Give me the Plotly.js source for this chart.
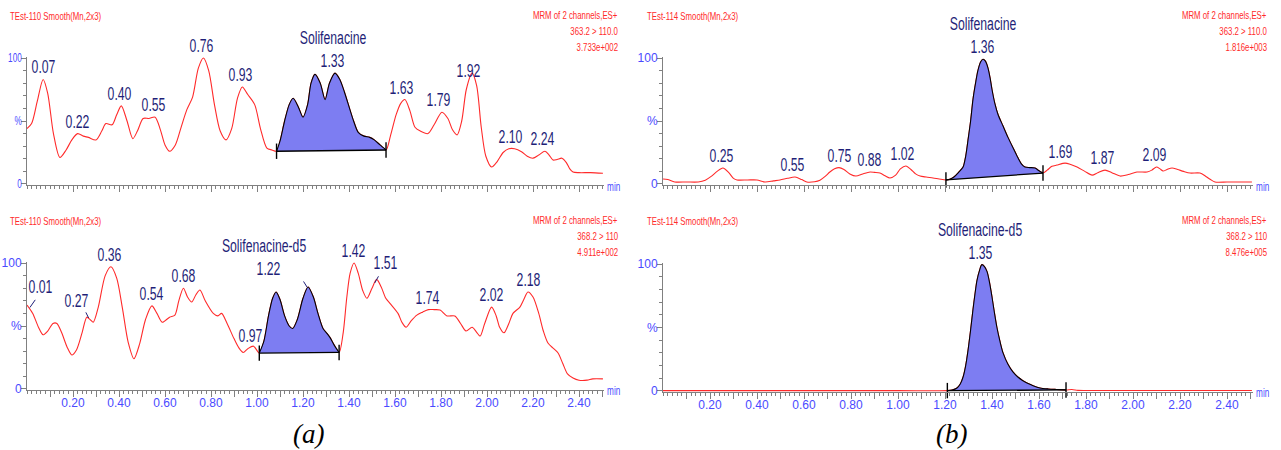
<!DOCTYPE html>
<html>
<head>
<meta charset="utf-8">
<script src="https://cdn.plot.ly/plotly-3.0.1.min.js"></script>
<style>html,body{margin:0;padding:0;background:#fff;}#chart{width:1281px;height:450px;}</style>
</head>
<body>
<div id="chart"></div>
<script>
// ---------- DATA (retention time in min, relative intensity in %) ----------
// (a) top: Solifenacine channel 363.2 > 110.0
const tA1 = [0.00,0.02,0.045,0.07,0.09,0.115,0.143,0.17,0.195,0.22,0.245,0.267,0.30,0.325,0.343,0.37,0.39,0.41,0.435,0.46,0.48,0.505,0.53,0.557,0.58,0.60,0.62,0.645,0.67,0.695,0.72,0.745,0.767,0.79,0.815,0.84,0.865,0.89,0.915,0.936,0.96,0.99,1.015,1.043,1.065,1.085,
  1.10,1.12,1.14,1.157,1.18,1.20,1.22,1.235,1.252,1.275,1.296,1.315,1.339,1.36,1.38,1.404,1.42,1.44,1.465,1.49,1.51,1.535,1.561,
  1.58,1.605,1.625,1.643,1.665,1.687,1.71,1.743,1.77,1.804,1.83,1.85,1.87,1.89,1.91,1.935,1.955,1.975,1.995,2.02,2.045,2.07,2.095,2.12,2.15,2.175,2.20,2.225,2.252,2.27,2.287,2.305,2.326,2.345,2.36,2.374,2.40,2.45,2.504];
const iA1 = [44,48,66,83,72,40,21,27,35,40,38,37,35,42,48,47,55,62,50,36,42,52,52,53,43,31,26,31,45,59,69,92,100,90,63,42,35,44,68,77,71,63,44,28.5,27,26,
  34,50,63,68,61,53,63,80,87,80,67,80,88,83,73,59,50,41,38,37,35,31,27,
  38,55,64,67,58,45,42,40,47,57,52,43,39,50,75,88,78,45,22,13.5,18,25,28,28,25.6,22,20.5,23,26,23,19,19.5,20.5,17,12,9.5,9,9,8.5];
// (a) bottom: Solifenacine-d5 channel 368.2 > 110
const tA2 = [0.00,0.025,0.05,0.07,0.09,0.113,0.13,0.15,0.175,0.195,0.215,0.24,0.26,0.275,0.288,0.31,0.34,0.365,0.39,0.415,0.44,0.465,0.49,0.515,0.543,0.565,0.588,0.62,0.643,0.66,0.68,0.698,0.716,0.735,0.752,0.775,0.81,0.83,0.846,0.87,0.90,0.92,0.94,0.96,0.985,1.01,
  1.03,1.05,1.068,1.083,1.10,1.12,1.14,1.155,1.175,1.20,1.222,1.245,1.265,1.287,1.305,1.317,1.335,1.357,
  1.375,1.39,1.405,1.422,1.44,1.46,1.478,1.50,1.52,1.54,1.56,1.578,1.613,1.63,1.648,1.67,1.695,1.72,1.745,1.77,1.796,1.826,1.86,1.885,1.909,1.935,1.955,1.97,1.99,2.02,2.04,2.055,2.074,2.095,2.113,2.143,2.16,2.178,2.20,2.225,2.245,2.265,2.29,2.309,2.33,2.35,2.374,2.40,2.435,2.46,2.504];
const iA2 = [66.7,60,49,43,46,52,52,45,33,27,31,45,57,55,53,65,90,97,88,64,37,24,36,55,66,60,53,57,58.7,70,80,73,69,75,78.6,70,60,58,60,52,40,33,29,32,34,28.5,
  38,58,72,77,71,58,50,48,55,72,81,73,60,48,44,41,35,29,
  45,72,92,100,92,78,72,80,87,81,72,68,60,53,49,54,58.6,61,63,63,62.7,58,58,52,46,49,45,42,52,65,58,49,44.6,52,60,65,71,77,73,60,46,36.5,32,28.6,20,12,8.7,7,7,8,8];
// (b) top: Solifenacine channel 363.2 > 110.0
const tB1 = [0.00,0.02,0.05,0.10,0.15,0.18,0.205,0.23,0.255,0.28,0.30,0.315,0.36,0.40,0.434,0.47,0.498,0.53,0.562,0.59,0.612,0.645,0.668,0.69,0.71,0.73,0.749,0.77,0.795,0.821,0.85,0.881,0.90,0.923,0.945,0.966,0.99,1.01,1.034,1.055,1.075,1.094,1.12,1.149,1.175,1.204,
  1.22,1.238,1.257,1.277,1.288,1.298,1.309,1.319,1.33,1.34,1.352,1.362,1.372,1.383,1.392,1.40,1.412,1.426,1.447,1.468,1.49,1.511,1.525,1.54,1.56,1.583,1.60,1.617,
  1.635,1.655,1.676,1.711,1.735,1.762,1.795,1.826,1.85,1.881,1.91,1.945,1.98,2.017,2.06,2.08,2.10,2.115,2.128,2.145,2.166,2.19,2.215,2.243,2.285,2.31,2.33,2.349,2.40,2.45,2.506];
const iB1 = [4,3.5,1.6,1.6,1.6,3,6,10,12.7,9,4.5,3.2,3.2,3.2,1.6,2.5,3.2,4.5,5.5,3.5,1.6,1.8,3,6,9.5,12,13,11.5,8,6.3,8,9.5,9.2,8.7,6.5,4.8,7,12,14.3,11.5,8,6.3,5.5,4.8,4,3.2,
  3.8,5.5,9,13.5,22,35,50,67,80,90,97,99,97.5,92,84,75,64,55,46,37,28.5,20.6,16,13.5,13,12.7,10.5,8.7,
  11,14,15,16.6,15.5,13.5,10,7,9,11,9,6.3,7.5,9.5,9.5,11,13.5,12,10.3,11.5,12.7,11.5,10,8.7,8.7,6,3.5,1.6,1.6,1.6,1.6];
// (b) bottom: Solifenacine-d5 channel 368.2 > 110
const tB2 = [0.00,0.50,1.00,1.21,
  1.23,1.251,1.265,1.277,1.288,1.298,1.309,1.319,1.328,1.336,1.347,1.357,1.368,1.379,1.39,1.40,1.41,1.421,1.434,1.447,1.468,1.489,1.51,1.53,1.549,1.575,1.604,1.64,1.675,1.715,
  1.74,1.765,1.80,2.00,2.20,2.506];
const iB2 = [0.3,0.3,0.3,0.3,
  0.8,2.4,5.5,11,20,32,48,64,77,87,95,99.5,98,94,85,74,62,50,39,30,21,15,11,8.3,6.3,4.2,2.4,1.6,1.2,0.8,
  1.2,0.5,0.4,0.4,0.4,0.4];

// integration windows [start, end] (min)
const intA1 = [1.085, 1.561];
const intA2 = [1.01, 1.357];
const intB1 = [1.204, 1.617];
const intB2 = [1.21, 1.715];

// peak labels (retention times)
const labA1 = ["0.07","0.22","0.40","0.55","0.76","0.93","1.33","1.63","1.79","1.92","2.10","2.24"];
const labA2 = ["0.01","0.27","0.36","0.54","0.68","0.97","1.22","1.42","1.51","1.74","2.02","2.18"];
const labB1 = ["0.25","0.55","0.75","0.88","1.02","1.36","1.69","1.87","2.09"];
const labB2 = ["1.35"];

const compounds = ["Solifenacine","Solifenacine-d5","Solifenacine","Solifenacine-d5"];
const compoundPeak = ["1.33","1.22","1.36","1.35"];
const headers = ["TEst-110 Smooth(Mn,2x3)","TEst-110 Smooth(Mn,2x3)","TEst-114 Smooth(Mn,2x3)","TEst-114 Smooth(Mn,2x3)"];
const infoLine1 = ["MRM of 2 channels,ES+","MRM of 2 channels,ES+","MRM of 2 channels,ES+","MRM of 2 channels,ES+"];
const infoLine2 = ["363.2 > 110.0","368.2 > 110","363.2 > 110.0","368.2 > 110"];
const infoLine3 = ["3.733e+002","4.911e+002","1.816e+003","8.476e+005"];
const xTickVals = [0.1,0.2,0.3,0.4,0.5,0.6,0.7,0.8,0.9,1.0,1.1,1.2,1.3,1.4,1.5,1.6,1.7,1.8,1.9,2.0,2.1,2.2,2.3,2.4,2.5];
const xTickText = ["","0.20","","0.40","","0.60","","0.80","","1.00","","1.20","","1.40","","1.60","","1.80","","2.00","","2.20","","2.40",""];
const yTickVals = [0,50,100];
const yTickText = ["0","%","100"];
const captions = ["(a)","(b)"];

// ---------- STYLE ----------
const SANS = '"Liberation Sans",Arial,Helvetica,sans-serif';
const SQUEEZE = 0.68;   // the original figure's lettering is horizontally condensed
const RED = '#ff2a2a', NAVY = '#1f1f78', BLUE = '#4a4aff', GRAY = '#808080', FILL = '#7d7df2';
const W = 1281, H = 450;

const panels = [
  {t:tA1, i:iA1, win:intA1, labs:labA1, xa:'x',  ya:'y',  xd:[27/W, 604.3/W], yd:[(H-185)/H,(H-57)/H], showX:false},
  {t:tA2, i:iA2, win:intA2, labs:labA2, xa:'x2', ya:'y2', xd:[27/W, 604.3/W], yd:[(H-390)/H,(H-262)/H], showX:true},
  {t:tB1, i:iB1, win:intB1, labs:labB1, xa:'x3', ya:'y3', xd:[663/W, 1252.85/W], yd:[(H-185)/H,(H-57)/H], showX:false},
  {t:tB2, i:iB2, win:intB2, labs:labB2, xa:'x4', ya:'y4', xd:[663/W, 1252.85/W], yd:[(H-392)/H,(H-263)/H], showX:true}
];

function interp(ts, ys, t){
  if (t <= ts[0]) return ys[0];
  for (let k=1;k<ts.length;k++){
    if (t <= ts[k]) { const f=(t-ts[k-1])/(ts[k]-ts[k-1]); return ys[k-1]+f*(ys[k]-ys[k-1]); }
  }
  return ys[ys.length-1];
}
function localMax(ts, ys, t){
  let m = interp(ts, ys, t);
  for (let k=0;k<ts.length;k++) if (Math.abs(ts[k]-t) <= 0.015) m = Math.max(m, ys[k]);
  return m;
}

// leader-line labels: {text: [xshift, yshift, leader ax, leader ay]}
const leaders = {
  "0.01":[11,21,7,-10],
  "0.27":[-13,18,-4,-8],
  "1.22":[-39,19,-5,-8],
  "1.51":[11,21,5,-9]
};

const traces = [];
const annotations = [];
const squeezeInfo = [];   // per annotation: transform origin or null
const layout = {
  width:W, height:H, autosize:false,
  margin:{l:0,r:0,t:0,b:0},
  paper_bgcolor:'#fff', plot_bgcolor:'rgba(0,0,0,0)',
  showlegend:false,
  annotations:annotations
};
function addAnn(a, origin){ annotations.push(a); squeezeInfo.push(origin); }

const LABEL_FONT = {family:SANS, size:18, color:NAVY};
const INFO_FONT = {family:SANS, size:11.5, color:RED};

panels.forEach((p, n) => {
  const sfx = n===0 ? '' : String(n+1);
  layout['xaxis'+sfx] = {
    domain:p.xd, range:[0,2.51], anchor:p.ya, fixedrange:true,
    showline:true, linecolor:GRAY, linewidth:1, showgrid:false, zeroline:false,
    ticks:'outside', ticklen:6, tickcolor:GRAY, tickwidth:1,
    tickmode:'array', tickvals:xTickVals, ticktext:xTickText,
    showticklabels:p.showX, tickangle:0, ticklabelstandoff:-4,
    tickfont:{family:SANS, size:12, color:BLUE},
    minor:{tick0:0, dtick:0.02, ticks:'outside', ticklen:3, tickcolor:GRAY, showgrid:false}
  };
  layout['yaxis'+sfx] = {
    domain:p.yd, range:[-0.8,100.8], anchor:p.xa, fixedrange:true,
    showline:true, linecolor:GRAY, linewidth:1, showgrid:false, zeroline:false,
    ticks:'outside', ticklen:5, tickcolor:GRAY, tickwidth:1,
    tickmode:'array', tickvals:yTickVals, ticktext:yTickText, ticklabelstandoff:-3,
    tickfont:{family:SANS, size:12, color:BLUE},
    minor:{tick0:0, dtick:10, ticks:'outside', ticklen:3, tickcolor:GRAY, showgrid:false}
  };

  // full chromatogram
  traces.push({x:p.t, y:p.i, xaxis:p.xa, yaxis:p.ya, type:'scatter', mode:'lines',
    line:{color:RED, width:1.1, shape:'spline', smoothing:0.8}, hoverinfo:'skip'});

  // integrated peak
  const px=[], py=[];
  p.t.forEach((v,k)=>{ if (v >= p.win[0]-1e-9 && v <= p.win[1]+1e-9){ px.push(v); py.push(p.i[k]); } });
  traces.push({x:px, y:py, xaxis:p.xa, yaxis:p.ya, type:'scatter', mode:'lines', fill:'toself',
    fillcolor:FILL, line:{color:'#000', width:1.1, shape:'spline', smoothing:0.8}, hoverinfo:'skip'});
  // baseline with end markers
  const bx=[px[0], px[px.length-1]], by=[py[0], py[py.length-1]];
  traces.push({x:bx, y:by, xaxis:p.xa, yaxis:p.ya, type:'scatter', mode:'lines+markers',
    line:{color:'#000', width:1.3}, marker:{symbol:'line-ns', size:11, line:{color:'#000', width:1.4}},
    cliponaxis:false, hoverinfo:'skip'});

  // peak labels
  p.labs.forEach(s => {
    const t = parseFloat(s);
    const ld = leaders[s];
    if (ld){
      const yv = interp(p.t, p.i, t);
      addAnn({xref:p.xa, yref:p.ya, x:t, y:yv, text:s, showarrow:false,
        xshift:ld[0], yshift:ld[1], font:LABEL_FONT}, 'center');
      addAnn({xref:p.xa, yref:p.ya, x:t, y:yv, text:'', showarrow:true, arrowhead:0,
        arrowwidth:1, arrowcolor:NAVY, ax:ld[2], ay:ld[3], standoff:1}, null);
    } else {
      const yv = localMax(p.t, p.i, t);
      addAnn({xref:p.xa, yref:p.ya, x:t, y:yv, text:s, showarrow:false,
        yshift:12, font:LABEL_FONT}, 'center');
    }
  });

  // compound name above its labelled peak
  const cs = compoundPeak[n];
  const ct = parseFloat(cs);
  const ld = leaders[cs];
  const cy = ld ? interp(p.t, p.i, ct) : localMax(p.t, p.i, ct);
  addAnn({xref:p.xa, yref:p.ya, x:ct, y:cy, text:compounds[n], showarrow:false,
    xshift: ld ? ld[0]-5 : 0, yshift:(ld ? ld[1] : 12) + 23, font:LABEL_FONT}, 'center');

  // header & info text (paper coords)
  const topPx = (n % 2 === 0) ? 0 : 205;
  const leftPx = n < 2 ? 8 : 645;
  const rightPx = n < 2 ? 620 : 1269;
  addAnn({xref:'paper', yref:'paper', x:leftPx/W, y:1-(topPx+16)/H, xanchor:'left', yanchor:'middle',
    text:headers[n], showarrow:false, font:INFO_FONT}, 'left');
  [infoLine1[n], infoLine2[n], infoLine3[n]].forEach((s, k) => {
    addAnn({xref:'paper', yref:'paper', x:rightPx/W, y:1-(topPx+15+k*16)/H, xanchor:'right', yanchor:'middle',
      text:s, showarrow:false, font:INFO_FONT}, 'right');
  });
  // "min" axis unit
  const minY = n===0||n===2 ? 187 : (n===1 ? 391 : 393);
  addAnn({xref:'paper', yref:'paper', x:(rightPx-7)/W, y:1-minY/H, xanchor:'center', yanchor:'middle',
    text:'min', showarrow:false, font:{family:SANS, size:12, color:BLUE}}, 'center');
});

// captions
[[308,captions[0]],[951,captions[1]]].forEach(c => {
  addAnn({xref:'paper', yref:'paper', x:c[0]/W, y:1-434/H, xanchor:'center', yanchor:'middle',
    text:c[1], showarrow:false, font:{family:'"Liberation Serif","Times New Roman",serif', size:27, color:'#000', style:'italic'}}, null);
});

// condense a text element horizontally about its left/center/right edge,
// composing with whatever transform Plotly already set on it
function squeeze(el, origin){
  const bb = el.getBBox();
  const ox = origin === 'left' ? bb.x : (origin === 'right' ? bb.x + bb.width : bb.x + bb.width/2);
  const old = el.getAttribute('transform') || '';
  el.setAttribute('transform', old + ' translate(' + ox + ',0) scale(' + SQUEEZE + ',1) translate(' + (-ox) + ',0)');
}

Plotly.newPlot('chart', traces, layout, {staticPlot:true, displayModeBar:false}).then(gd => {
  gd.querySelectorAll('g.annotation').forEach(g => {
    const idx = +g.getAttribute('data-index');
    const origin = squeezeInfo[idx];
    if (!origin) return;
    const tx = g.querySelector('text.annotation-text');
    if (tx) squeeze(tx, origin);
  });
  gd.querySelectorAll('g.xtick text').forEach(t => squeeze(t, 'center'));
  gd.querySelectorAll('g.ytick text').forEach(t => squeeze(t, 'right'));
});
</script>
</body>
</html>
